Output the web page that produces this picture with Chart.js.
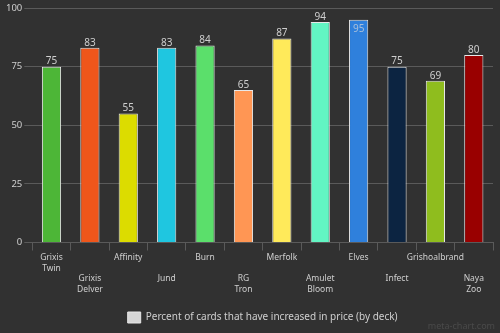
<!DOCTYPE html>
<html>
<head>
<meta charset="utf-8">
<script src="https://cdn.jsdelivr.net/npm/chart.js@4/dist/chart.umd.min.js"></script>
<style>
  html, body { margin: 0; padding: 0; background: #313131; }
  #wrap { width: 500px; height: 333px; position: relative; }
</style>
</head>
<body>
<div id="wrap"><canvas id="chart"></canvas></div>
<script>
const decks = ["Grixis Twin", "Grixis Delver", "Affinity", "Jund", "Burn", "RG Tron",
  "Merfolk", "Amulet Bloom", "Elves", "Infect", "Grishoalbrand", "Naya Zoo"];
const percentUp = [75, 83, 55, 83, 84, 65, 87, 94, 95, 75, 69, 80];
const barColors = ["#4db637", "#ef561b", "#dcdc00", "#1fc6e0", "#5bdf6b", "#ff9654",
  "#ffea5a", "#62f5c3", "#2f80dc", "#0c2441", "#8fbd1e", "#990000"];
const yTicks = [0, 25, 50, 75, 100];
const seriesName = "Percent of cards that have increased in price (by deck)";

const textColor = "#cfcfcf";
const gridColor = "#5a5a5a";
const fontFamily = "'Noto Sans'";

// two rows of labels, odd categories pushed to the lower row
const tickLabels = decks.map((d, i) => {
  const lines = d.split(" ");
  return i % 2 === 0 ? lines : ["", "", ...lines];
});

const valueLabels = {
  id: "valueLabels",
  afterDatasetsDraw(chart) {
    const ctx = chart.ctx;
    const meta = chart.getDatasetMeta(0);
    ctx.save();
    ctx.font = "10px " + fontFamily;
    ctx.textAlign = "center";
    ctx.textBaseline = "bottom";
    meta.data.forEach((bar, i) => {
      let y = bar.y;
      ctx.fillStyle = textColor;
      if (y - 12 < chart.chartArea.top) {
        y = bar.y + 14;
        ctx.fillStyle = "#a9bfd9";
      }
      ctx.fillText(percentUp[i], bar.x, y);
    });
    ctx.restore();
  },
  afterDraw(chart) {
    const ctx = chart.ctx;
    ctx.save();
    ctx.font = "9px " + fontFamily;
    ctx.fillStyle = "#4a4a4a";
    ctx.textAlign = "right";
    ctx.textBaseline = "middle";
    ctx.fillText("meta-chart.com", 495, 326);
    ctx.restore();
  }
};

new Chart(document.getElementById("chart"), {
  type: "bar",
  data: {
    labels: tickLabels,
    datasets: [{
      label: seriesName,
      data: percentUp,
      backgroundColor: barColors,
      borderColor: "#e8e8e8",
      borderWidth: 1,
      borderSkipped: "bottom",
      barPercentage: 0.5,
      categoryPercentage: 1
    }]
  },
  options: {
    responsive: true,
    maintainAspectRatio: false,
    animation: false,
    layout: { padding: { top: 8, right: 7, left: 4, bottom: 0 } },
    plugins: {
      legend: {
        position: "bottom",
        fullSize: false,
        labels: {
          color: textColor,
          font: { family: fontFamily, size: 10 },
          boxWidth: 13,
          boxHeight: 11,
          padding: 15,
          generateLabels: () => [{
            text: seriesName,
            fillStyle: "#d6d6d6",
            strokeStyle: "#e8e8e8",
            lineWidth: 1,
            fontColor: textColor
          }]
        }
      },
      tooltip: { enabled: false }
    },
    scales: {
      x: {
        grid: {
          display: true,
          drawOnChartArea: false,
          offset: true,
          color: gridColor,
          tickLength: 8
        },
        border: { color: gridColor },
        ticks: {
          color: textColor,
          font: { family: fontFamily, size: 8.5, lineHeight: 1.25 },
          maxRotation: 0,
          autoSkip: false,
          padding: 2
        }
      },
      y: {
        min: 0,
        max: 100,
        afterBuildTicks: axis => { axis.ticks = yTicks.map(v => ({ value: v })); },
        grid: { color: gridColor, tickLength: 8 },
        border: { display: false },
        ticks: {
          color: textColor,
          font: { family: fontFamily, size: 9.5 },
          padding: 2
        }
      }
    }
  },
  plugins: [valueLabels]
});
</script>
</body>
</html>
